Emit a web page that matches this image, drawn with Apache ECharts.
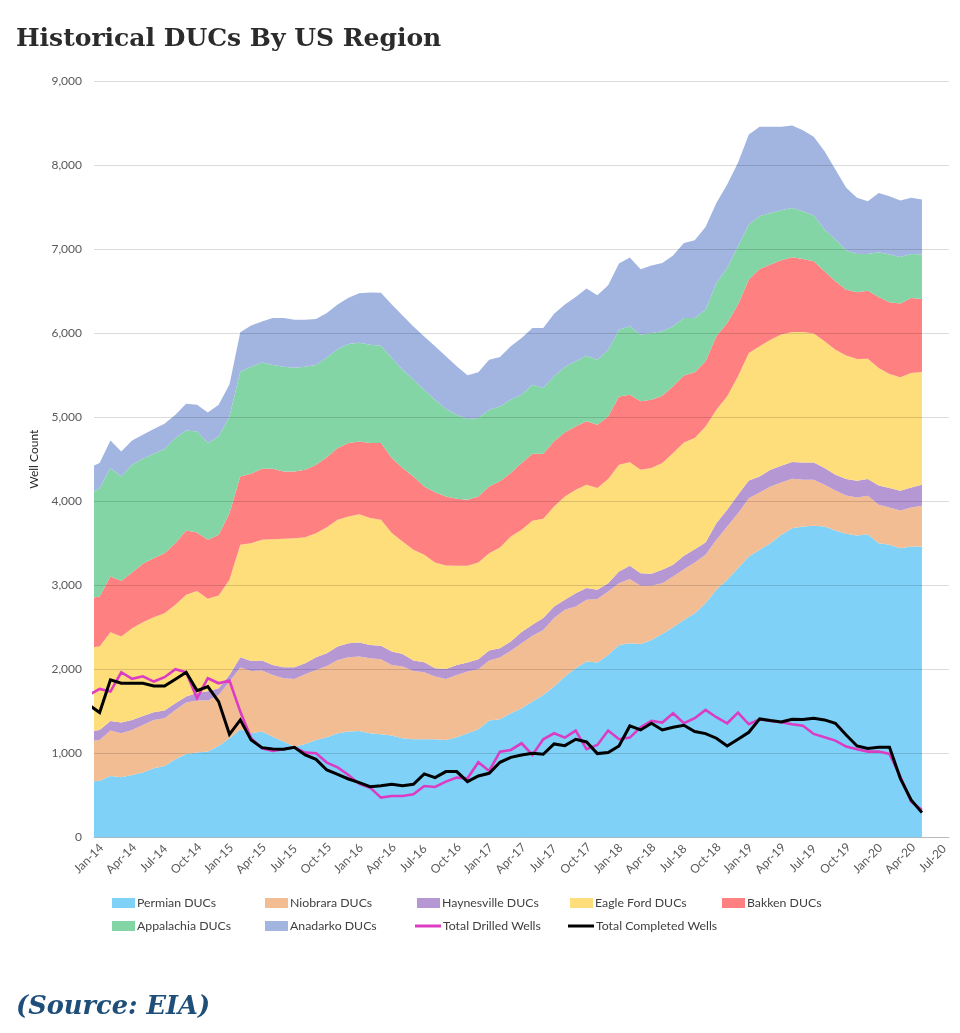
<!DOCTYPE html>
<html>
<head>
<meta charset="utf-8">
<title>Historical DUCs By US Region</title>
<script src="https://cdn.jsdelivr.net/npm/echarts@6/dist/echarts.min.js"></script>
<style>
html, body { margin: 0; padding: 0; background: #fff; }
#chart { width: 960px; height: 1033px; }
</style>
</head>
<body>
<div id="chart"></div>
<script>
var months = [
    'Jan-14','Feb-14','Mar-14','Apr-14','May-14','Jun-14','Jul-14','Aug-14','Sep-14','Oct-14','Nov-14','Dec-14',
    'Jan-15','Feb-15','Mar-15','Apr-15','May-15','Jun-15','Jul-15','Aug-15','Sep-15','Oct-15','Nov-15','Dec-15',
    'Jan-16','Feb-16','Mar-16','Apr-16','May-16','Jun-16','Jul-16','Aug-16','Sep-16','Oct-16','Nov-16','Dec-16',
    'Jan-17','Feb-17','Mar-17','Apr-17','May-17','Jun-17','Jul-17','Aug-17','Sep-17','Oct-17','Nov-17','Dec-17',
    'Jan-18','Feb-18','Mar-18','Apr-18','May-18','Jun-18','Jul-18','Aug-18','Sep-18','Oct-18','Nov-18','Dec-18',
    'Jan-19','Feb-19','Mar-19','Apr-19','May-19','Jun-19','Jul-19','Aug-19','Sep-19','Oct-19','Nov-19','Dec-19',
    'Jan-20','Feb-20','Mar-20','Apr-20','May-20','Jun-20','Jul-20'
];

var permian = [665,676,732,716,744,772,823,851,930,994,1010,1022,1089,1180,1288,1240,1260,1200,1141,1081,1113,1161,1192,1240,1260,1268,1240,1228,1212,1180,1168,1168,1168,1161,1192,1240,1288,1391,1407,1478,1538,1617,1696,1795,1914,2014,2093,2081,2172,2291,2311,2303,2351,2420,2500,2589,2669,2788,2946,3065,3204,3343,3422,3502,3601,3680,3700,3708,3700,3653,3613,3593,3609,3502,3482,3442,3462,3462];
var niobrara = [476,485,540,524,536,567,576,568,588,611,619,607,607,675,734,742,726,734,754,806,829,833,849,873,885,885,893,893,841,853,814,798,746,726,742,734,714,714,735,744,772,783,774,815,795,735,735,755,755,735,763,691,643,606,605,603,603,575,595,635,655,694,683,674,623,588,556,548,496,476,456,452,456,456,444,449,464,484];
var haynesville = [119,119,115,127,119,107,91,91,79,71,91,111,80,79,123,119,119,119,131,139,131,151,151,159,166,166,158,159,159,151,123,119,100,119,119,107,119,119,110,109,135,130,140,139,119,158,139,111,99,139,159,151,143,158,139,159,158,147,199,199,218,211,190,199,198,198,206,206,199,186,195,199,199,230,231,234,239,250];
var eagleFord = [1004,992,1055,1024,1091,1115,1131,1158,1171,1211,1214,1099,1103,1131,1337,1401,1436,1496,1527,1535,1500,1476,1500,1507,1508,1528,1509,1500,1410,1338,1318,1279,1258,1231,1180,1152,1151,1159,1199,1251,1216,1238,1182,1190,1230,1230,1230,1210,1238,1270,1230,1230,1258,1270,1329,1349,1322,1381,1350,1350,1410,1516,1549,1548,1561,1548,1552,1533,1508,1489,1469,1449,1433,1398,1357,1350,1361,1342];
var bakken = [583,595,663,662,662,695,702,715,734,765,695,702,722,794,813,825,846,838,802,794,802,813,833,854,873,865,893,913,892,873,873,813,834,821,797,785,786,794,786,754,794,798,774,774,762,754,754,754,746,813,805,814,814,802,795,795,782,774,873,872,853,873,920,893,885,889,869,860,834,813,785,794,809,845,854,877,893,869];
var appalachia = [1230,1289,1290,1242,1282,1250,1242,1238,1250,1191,1202,1151,1170,1150,1245,1273,1263,1233,1245,1235,1225,1186,1185,1177,1178,1173,1170,1158,1191,1171,1151,1151,1103,1040,1000,961,932,913,892,873,813,821,782,773,778,774,781,774,794,794,814,793,794,766,714,686,647,615,635,655,694,655,627,615,595,587,568,544,496,497,469,456,437,532,567,555,524,528];
var anadarko = [323,298,329,298,290,285,294,301,278,317,317,365,377,381,470,490,490,560,580,570,560,550,530,530,550,590,620,629,635,644,633,632,634,627,575,519,544,595,588,634,675,675,714,744,742,765,798,765,766,788,818,778,801,814,841,893,925,984,952,992,992,1071,1064,1024,992,980,964,937,932,833,742,667,627,706,694,671,667,655];
var drilled = [1696,1768,1736,1966,1887,1918,1855,1907,2002,1966,1657,1895,1835,1867,1498,1180,1061,1030,1050,1073,1010,1002,891,835,744,637,593,474,494,494,514,613,601,665,712,704,895,792,1022,1042,1121,982,1169,1240,1188,1272,1050,1101,1272,1169,1188,1311,1387,1367,1478,1359,1419,1518,1431,1359,1486,1347,1407,1387,1371,1347,1331,1232,1192,1153,1081,1050,1022,1022,994,724,427,327];
var completed = [1577,1486,1875,1835,1835,1835,1803,1803,1883,1966,1748,1795,1617,1228,1399,1161,1069,1053,1050,1073,982,930,803,752,696,653,605,617,633,617,633,756,712,784,784,665,732,764,895,954,982,1002,990,1113,1093,1169,1137,998,1010,1089,1327,1280,1359,1280,1312,1335,1260,1236,1181,1089,1169,1252,1411,1391,1375,1407,1403,1419,1399,1359,1220,1089,1058,1073,1073,704,447,296];

var areaNames = ['Permian DUCs','Niobrara DUCs','Haynesville DUCs','Eagle Ford DUCs','Bakken DUCs','Appalachia DUCs','Anadarko DUCs'];
var areaValues = [permian, niobrara, haynesville, eagleFord, bakken, appalachia, anadarko];
var areaColors = ['#7fd1f7','#f3bd94','#b597d3','#fedd7b','#fe8080','#83d5a6','#a1b5e0'];

var chart = echarts.init(document.getElementById('chart'));
var labelFont = 'Lato';
var textColor = '#595959';

// value goes first: with two value axes the stack runs on the first numeric column
function points(values) {
    return values.map(function (v, i) { return [v, i]; });
}

var series = [];
areaNames.forEach(function (name, k) {
    series.push({
        name: name,
        type: 'line',
        stack: 'ducs',
        z: 2,
        symbol: 'none',
        encode: { x: 1, y: 0 },
        lineStyle: { width: 0 },
        itemStyle: { color: areaColors[k] },
        areaStyle: { color: areaColors[k], opacity: 1 },
        data: points(areaValues[k])
    });
});
series.push({
    name: 'Total Drilled Wells', type: 'line', z: 5, symbol: 'none',
    encode: { x: 1, y: 0 },
    lineStyle: { width: 2.6, color: '#dc3cc3', join: 'miter' },
    itemStyle: { color: '#dc3cc3' },
    data: points(drilled)
});
series.push({
    name: 'Total Completed Wells', type: 'line', z: 6, symbol: 'none',
    encode: { x: 1, y: 0 },
    lineStyle: { width: 3, color: '#000', join: 'miter' },
    itemStyle: { color: '#000' },
    data: points(completed)
});

// legend: one box per entry so the columns line up like the original
var legendRows = [
    ['Permian DUCs', 112, 897], ['Niobrara DUCs', 265, 897], ['Haynesville DUCs', 417, 897], ['Eagle Ford DUCs', 570, 897], ['Bakken DUCs', 722, 897],
    ['Appalachia DUCs', 112, 920], ['Anadarko DUCs', 265, 920], ['Total Drilled Wells', 415, 920], ['Total Completed Wells', 568, 920]
];
var legends = legendRows.map(function (row) {
    var isLine = row[0].indexOf('Total') === 0;
    return {
        data: [row[0]],
        left: row[1],
        top: row[2],
        padding: 0,
        icon: 'rect',
        itemWidth: isLine ? 26 : 23,
        itemHeight: isLine ? 3 : 10,
        itemGap: 0,
        selectedMode: false,
        textStyle: { fontFamily: labelFont, fontSize: 12.3, color: '#404040', padding: [0, 0, 0, -3] }
    };
});

chart.setOption({
    animation: false,
    backgroundColor: '#fff',
    title: [
        { text: 'Historical DUCs By US Region', left: 16, top: 27, padding: 0,
          textStyle: { fontFamily: 'DejaVu Serif', fontWeight: 'bold', fontSize: 25, color: '#2b2b2b' } },
        { text: '(Source: EIA)', left: 16, top: 994, padding: 0,
          textStyle: { fontFamily: 'DejaVu Serif', fontWeight: 'bold', fontStyle: 'italic', fontSize: 25.7, color: '#1f4e79' } }
    ],
    legend: legends,
    grid: [
        { left: 94, right: 11, top: 81, bottom: 195.5 },
        // second grid only carries the month labels; Jan-14 sits left of the plot
        { left: 88.8, right: 27.3, top: 81, bottom: 195.5 }
    ],
    xAxis: [
        {
            type: 'value', gridIndex: 0, min: 0.48, max: 79.5,
            axisLine: { show: true, onZero: false, lineStyle: { color: '#d9d9d9' } },
            axisTick: { show: false }, axisLabel: { show: false }, splitLine: { show: false }
        },
        {
            type: 'category', gridIndex: 1, boundaryGap: false, data: months,
            axisLine: { show: false }, axisTick: { show: false }, splitLine: { show: false },
            axisLabel: {
                interval: 2, rotate: 45, align: 'center', verticalAlign: 'middle', margin: 21,
                fontFamily: labelFont, fontSize: 12, color: textColor
            }
        }
    ],
    yAxis: [
        {
            type: 'value', gridIndex: 0, min: 0, max: 9000, interval: 1000, z: 3,
            name: 'Well Count', nameLocation: 'middle', nameGap: 54,
            nameTextStyle: { fontFamily: labelFont, fontSize: 12, color: '#262626' },
            axisLine: { show: false }, axisTick: { show: false },
            splitLine: { lineStyle: { color: 'rgba(0,0,0,0.14)', width: 1 } },
            axisLabel: {
                margin: 12, fontFamily: labelFont, fontSize: 12, color: textColor,
                formatter: function (v) { return v.toLocaleString('en-US'); }
            }
        },
        { type: 'value', gridIndex: 1, show: false, min: 0, max: 9000 }
    ],
    series: series
});
</script>
</body>
</html>
